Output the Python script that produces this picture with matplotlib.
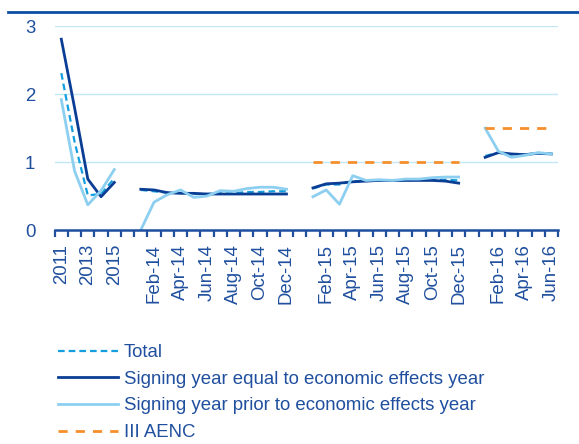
import numpy as np
import matplotlib
matplotlib.use("Agg")
import matplotlib.pyplot as plt
from matplotlib.lines import Line2D

plt.rcParams['font.family'] = ['Liberation Sans', 'DejaVu Sans']

nan = np.nan

# Category axis: annual figures, then monthly blocks separated by empty slots
categories = (["2011", "2012", "2013", "2014", "2015", ""]
              + [m + "-14" for m in ["Jan", "Feb", "Mar", "Apr", "May", "Jun",
                                     "Jul", "Aug", "Sep", "Oct", "Nov", "Dec"]] + [""]
              + [m + "-15" for m in ["Jan", "Feb", "Mar", "Apr", "May", "Jun",
                                     "Jul", "Aug", "Sep", "Oct", "Nov", "Dec"]] + [""]
              + [m + "-16" for m in ["Jan", "Feb", "Mar", "Apr", "May", "Jun"]])

shown_labels = ["2011", "2013", "2015",
                "Feb-14", "Apr-14", "Jun-14", "Aug-14", "Oct-14", "Dec-14",
                "Feb-15", "Apr-15", "Jun-15", "Aug-15", "Oct-15", "Dec-15",
                "Feb-16", "Apr-16", "Jun-16"]

total = [2.31, 1.30, 0.51, 0.53, 0.76, nan,
         0.59, 0.57, 0.55, 0.55, 0.53, 0.53, 0.54, 0.54, 0.56, 0.56, 0.57, 0.57, nan,
         0.61, 0.67, 0.67, 0.72, 0.72, 0.73, 0.73, 0.73, 0.74, 0.74, 0.74, 0.73, nan,
         1.09, 1.14, 1.11, 1.11, 1.13, 1.12]

signing_equal = [2.81, 1.80, 0.75, 0.49, 0.70, nan,
                 0.60, 0.59, 0.55, 0.54, 0.54, 0.53, 0.53, 0.53, 0.53, 0.53, 0.53, 0.53, nan,
                 0.62, 0.68, 0.69, 0.71, 0.72, 0.73, 0.73, 0.73, 0.73, 0.73, 0.72, 0.69, nan,
                 1.07, 1.14, 1.12, 1.11, 1.13, 1.12]

signing_prior = [1.92, 0.87, 0.37, 0.58, 0.89, nan,
                 0.00, 0.41, 0.52, 0.59, 0.48, 0.50, 0.58, 0.57, 0.61, 0.63, 0.63, 0.60, nan,
                 0.49, 0.59, 0.38, 0.80, 0.73, 0.74, 0.73, 0.75, 0.75, 0.77, 0.78, 0.78, nan,
                 1.50, 1.16, 1.07, 1.10, 1.14, 1.12]

aenc = [nan] * 19 + [1.0] * 12 + [nan] + [1.5] * 6

text_col = "#1F4F9E"
dark_col = "#0A3D94"
light_col = "#8DCFF0"
total_col = "#139FDF"
orange_col = "#F58F2C"
grid_col = "#C2E7F8"

fs = 13.4

fig = plt.figure(figsize=(5.79, 4.44), dpi=100)
ax = fig.add_axes([54.7 / 579, 1 - 230 / 444, (558 - 54.7) / 579, (230 - 26.3) / 444])

x = np.arange(len(categories))
ax.plot(x, total, color=total_col, lw=1.6, dashes=(3.0, 1.8), zorder=3,
        label="Total", solid_capstyle="butt", dash_capstyle="butt")
ax.plot(x, signing_equal, color=dark_col, lw=2.0, zorder=4,
        label="Signing year equal to economic effects year")
ax.plot(x, signing_prior, color=light_col, lw=2.0, zorder=5,
        label="Signing year prior to economic effects year")
ax.plot(x, aenc, color=orange_col, lw=2.0, dashes=(3.3, 2.9), zorder=6,
        label="III AENC", dash_capstyle="butt")

ax.set_xlim(-0.5, len(categories) - 0.5)
ax.set_ylim(0, 3)
ax.set_yticks([0, 1, 2, 3])
ax.grid(axis="y", color=grid_col, lw=1.0, zorder=0)
ax.set_axisbelow(True)

label_pos = [categories.index(l) for l in shown_labels]
ax.set_xticks(label_pos)
ax.set_xticklabels(shown_labels, rotation=90)
ax.set_xticks(np.arange(-0.5, len(categories), 1.0), minor=True)
ax.tick_params(axis="x", which="major", length=0, pad=10, labelsize=fs, labelcolor=text_col)
ax.tick_params(axis="x", which="minor", length=5, width=1.6, color=text_col, direction="out")
ax.tick_params(axis="y", length=0, pad=14, labelsize=fs, labelcolor=text_col)

for side in ["left", "right", "top"]:
    ax.spines[side].set_visible(False)
ax.spines["bottom"].set_color(text_col)
ax.spines["bottom"].set_linewidth(1.8)
ax.spines["bottom"].set_zorder(7)

# Rule above the chart
fig.add_artist(Line2D([8 / 579, 1.0], [1 - 12 / 444, 1 - 12 / 444],
                      color="#0B4EA2", lw=2.0))

leg = fig.legend(loc="upper left", bbox_to_anchor=(58 / 579, 1 - 344 / 444),
                 frameon=False, fontsize=fs, handlelength=3.2, handletextpad=0.32,
                 labelspacing=0.52, borderaxespad=0, borderpad=0)
for t in leg.get_texts():
    t.set_color(text_col)

fig.savefig("out.png", dpi=100)
